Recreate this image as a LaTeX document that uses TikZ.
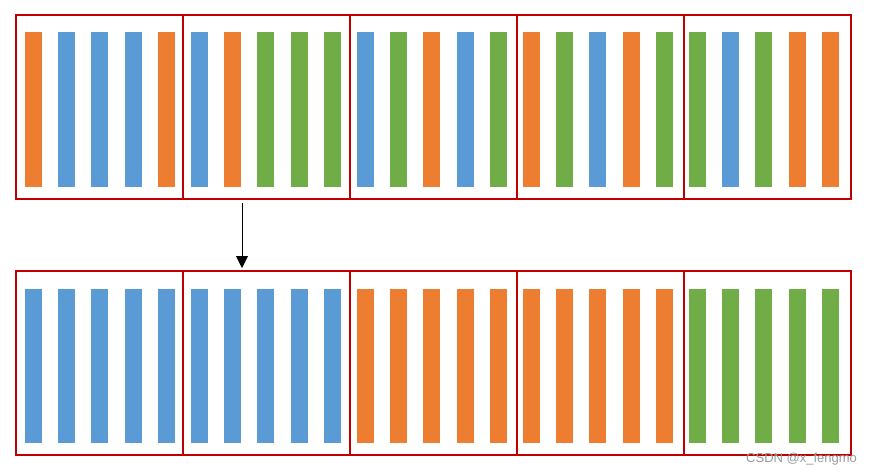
\documentclass[tikz,border=0pt]{standalone}
\usepackage{fontspec}
\setsansfont{Liberation Sans}
\usepackage{tikz}
\usetikzlibrary{arrows.meta}
\usepackage{xcolor}
\definecolor{barorange}{RGB}{237,125,49}
\definecolor{barblue}{RGB}{91,155,213}
\definecolor{bargreen}{RGB}{112,173,71}
\definecolor{boxred}{RGB}{192,0,0}

\begin{document}
\begin{tikzpicture}[x=1pt,y=-1pt,>={Triangle[length=12pt,width=12pt]}]
    \useasboundingbox (0,0) rectangle (870,474);
    \tikzset{cellbox/.style={draw=boxred,line width=2.8pt,minimum width=167pt,minimum height=184pt,inner sep=0pt,outer sep=0pt,anchor=north west}}
    % bars, before and after
    \foreach \c [count=\i from 0] in {barorange,barblue,barblue,barblue,barorange,barblue,barorange,bargreen,bargreen,bargreen,barblue,bargreen,barorange,barblue,bargreen,barorange,bargreen,barblue,barorange,bargreen,bargreen,barblue,bargreen,barorange,barorange}
        \fill[\c] ({25+33.2*\i},32) rectangle ++(17,155);
    \foreach \c [count=\i from 0] in {barblue,barblue,barblue,barblue,barblue,barblue,barblue,barblue,barblue,barblue,barorange,barorange,barorange,barorange,barorange,barorange,barorange,barorange,barorange,barorange,bargreen,bargreen,bargreen,bargreen,bargreen}
        \fill[\c] ({25+33.2*\i},289) rectangle ++(17,154);
    % boxes
    \foreach \k in {1,...,5} {
        \node[cellbox] (top\k) at ({16+167*(\k-1)},15) {};
        \node[cellbox] (bot\k) at ({16+167*(\k-1)},271) {};
    }
    \draw[->,line width=0.9pt] ([xshift=-24.5pt,yshift=-4pt]top2.south) -- ([xshift=-24.5pt,yshift=3pt]bot2.north);
    \node[anchor=base west,inner sep=0pt,text=gray!80,font=\sffamily\fontsize{13}{13}\selectfont] (mark) at (746,462) {CSDN @x\_fengmo};
\end{tikzpicture}
\end{document}
